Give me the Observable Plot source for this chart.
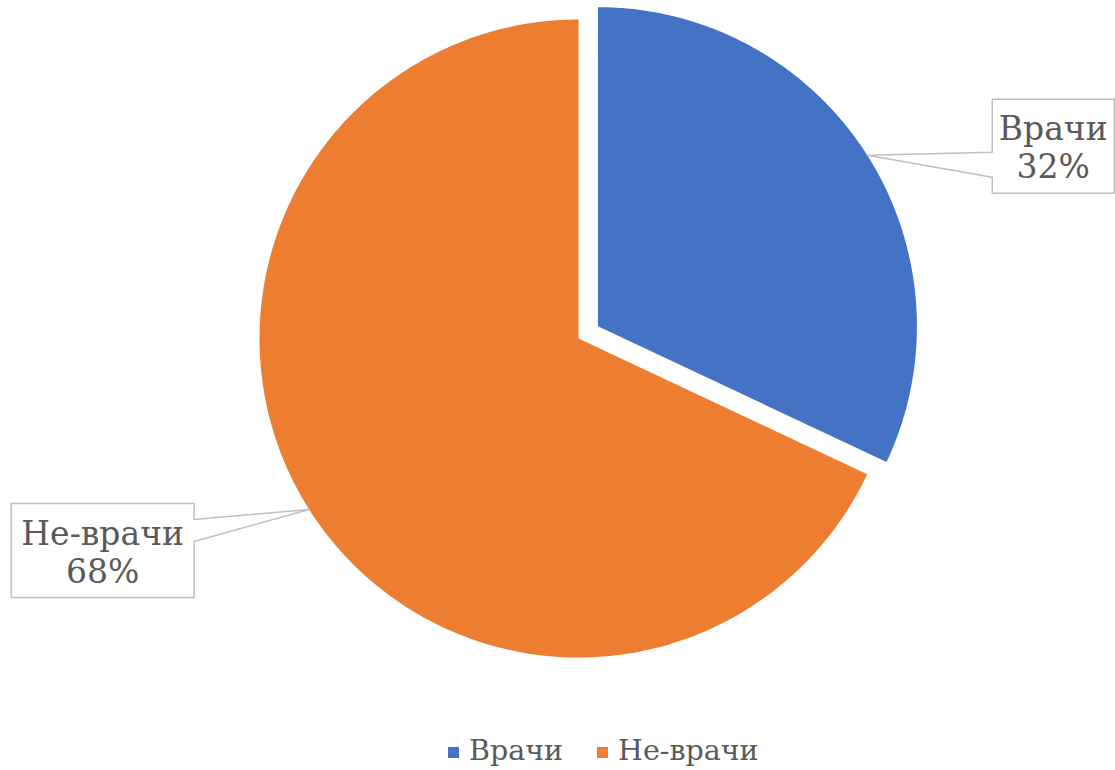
<!DOCTYPE html>
<html>
<head>
<meta charset="utf-8">
<script src="https://cdn.jsdelivr.net/npm/d3@7"></script>
<script src="https://cdn.jsdelivr.net/npm/@observablehq/plot@0.6"></script>
<style>
  html, body { margin: 0; padding: 0; background: #fff; }
  #chart { width: 1115px; }
  #legend { width: 1115px; height: 40px; display: flex; justify-content: flex-start; align-items: center;
    box-sizing: border-box; padding-left: 448px;
    font-family: "DejaVu Serif", serif; font-size: 28.5px; color: #595959; }
  .item { display: flex; align-items: center; margin-right: 34px; }
  .sw { width: 11px; height: 11px; margin-right: 10px; margin-top: 5px; }
</style>
</head>
<body>
<div id="chart"></div>
<div id="legend"></div>
<script>
const categories = ["Врачи", "Не-врачи"];
const values = [32, 68];
const labels = ["32%", "68%"];
const colors = ["#4472C4", "#ED7D31"];

// layout
const W = 1115, H = 730;
const cx = 578, cy = 338, R = 319;
const explode = [23, 0];
// callout boxes relative to the anchor on each slice's edge
const callouts = [
  {dx: 125, dy: -56, w: 122, h: 94, side: "left", p1: -3, p2: 22},
  {dx: -115, dy: -6, w: 183, h: 94, side: "right", p1: 10, p2: 32}
];

const arcs = d3.pie().sort(null).value(d => d)(values);

const slicePts = [];
const calloutPts = [];
const textPts = [];
arcs.forEach((a, i) => {
  const mid = (a.startAngle + a.endAngle) / 2;
  const ox = cx + explode[i] * Math.sin(mid);
  const oy = cy - explode[i] * Math.cos(mid);
  const n = 240;
  slicePts.push({k: i, x: ox, y: oy});
  for (let j = 0; j <= n; j++) {
    const t = a.startAngle + (a.endAngle - a.startAngle) * j / n;
    slicePts.push({k: i, x: ox + R * Math.sin(t), y: oy - R * Math.cos(t)});
  }
  slicePts.push({k: i, x: ox, y: oy});

  const ax = ox + R * Math.sin(mid), ay = oy - R * Math.cos(mid);
  const c = callouts[i];
  let left, right;
  if (c.side === "left") { left = ax + c.dx; right = left + c.w; }
  else { right = ax + c.dx; left = right - c.w; }
  const top = ay + c.dy, bottom = top + c.h;
  let poly;
  if (c.side === "left") {
    poly = [[left, top], [right, top], [right, bottom], [left, bottom], [left, ay + c.p2], [ax, ay], [left, ay + c.p1], [left, top]];
  } else {
    poly = [[left, top], [right, top], [right, ay + c.p1], [ax, ay], [right, ay + c.p2], [right, bottom], [left, bottom], [left, top]];
  }
  poly.forEach(([x, y]) => calloutPts.push({k: i, x, y}));
  textPts.push({x: (left + right) / 2, y: (top + bottom) / 2 + 1, text: categories[i] + "\n" + labels[i]});
});

const plot = Plot.plot({
  width: W, height: H,
  margin: 0,
  x: {domain: [0, W], range: [0, W], axis: null},
  y: {domain: [0, H], range: [0, H], axis: null},
  marks: [
    Plot.line(slicePts, {x: "x", y: "y", z: "k", fill: d => colors[d.k], stroke: null, curve: "linear"}),
    Plot.line(calloutPts, {x: "x", y: "y", z: "k", fill: "white", stroke: "#BFBFBF", strokeWidth: 1.5, curve: "linear"}),
    Plot.text(textPts, {x: "x", y: "y", text: "text", fontSize: 33, lineHeight: 1.15, fill: "#595959",
      fontFamily: "DejaVu Serif", textAnchor: "middle"})
  ]
});
document.getElementById("chart").appendChild(plot);

const leg = document.getElementById("legend");
categories.forEach((c, i) => {
  const it = document.createElement("div");
  it.className = "item";
  const sw = document.createElement("div");
  sw.className = "sw";
  sw.style.background = colors[i];
  const tx = document.createElement("span");
  tx.textContent = c;
  it.appendChild(sw); it.appendChild(tx);
  leg.appendChild(it);
});
</script>
</body>
</html>
